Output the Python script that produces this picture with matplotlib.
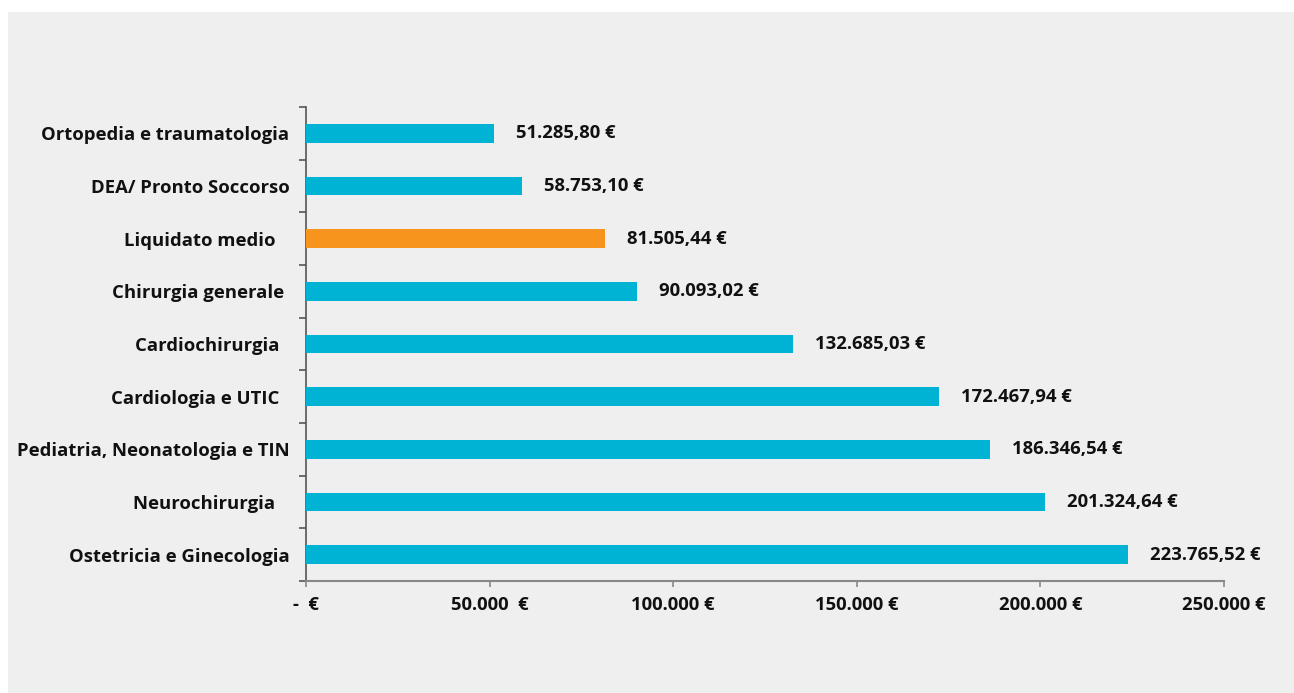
import matplotlib
matplotlib.use("Agg")
import matplotlib.pyplot as plt
from matplotlib.patches import Rectangle
from matplotlib.ticker import FixedLocator

categories = [
    "Ostetricia e Ginecologia",
    "Neurochirurgia   ",
    "Pediatria, Neonatologia e TIN",
    "Cardiologia e UTIC  ",
    "Cardiochirurgia  ",
    "Chirurgia generale ",
    "Liquidato medio   ",
    "DEA/ Pronto Soccorso",
    "Ortopedia e traumatologia",
]
values = [223765.52, 201324.64, 186346.54, 172467.94, 132685.03,
          90093.02, 81505.44, 58753.10, 51285.80]
highlight = "Liquidato medio   "
x_ticks = [0, 50000, 100000, 150000, 200000, 250000]
x_tick_labels = ["-  €", "50.000  €", "100.000 €", "150.000 €", "200.000 €", "250.000 €"]

BLUE = "#00B2D4"
ORANGE = "#F7941E"
BG = "#EFEFEF"
TXT = "#111111"
FS = 13.3

plt.rcParams["font.family"] = ["Open Sans", "DejaVu Sans"]
plt.rcParams["font.stretch"] = "normal"
font_kw = dict(fontsize=FS, fontweight="bold", fontstretch="normal", color=TXT)

def eur(v):
    s = f"{v:,.2f}"
    s = s.replace(",", "X").replace(".", ",").replace("X", ".")
    return s + " €"

fig = plt.figure(figsize=(12.94, 6.93), dpi=100, facecolor="white")
fig.patches.append(Rectangle((8 / 1294, 0), 1, 1 - 12 / 693, transform=fig.transFigure,
                             facecolor=BG, edgecolor="none", zorder=-10))

ax = fig.add_axes([306 / 1294, 1 - 581 / 693, 918 / 1294, 474 / 693])
ax.patch.set_alpha(0)

ypos = list(range(len(categories)))
colors = [ORANGE if c == highlight else BLUE for c in categories]
ax.barh(ypos, values, height=0.35, color=colors, zorder=3)

for y, v in zip(ypos, values):
    ax.annotate(eur(v), xy=(v, y), xytext=(22, 0), textcoords="offset pixels",
                ha="left", va="center", **font_kw)

ax.set_xlim(0, 250000)
ax.set_ylim(-0.5, len(categories) - 0.5)
ax.xaxis.set_major_locator(FixedLocator(x_ticks))
ax.set_xticklabels(x_tick_labels, **font_kw)

ax.set_yticks([y - 0.5 for y in ypos] + [len(categories) - 0.5])
ax.set_yticklabels([])
ax.set_yticks(ypos, minor=True)
ax.set_yticklabels(categories, minor=True, **font_kw)
ax.tick_params(axis="y", which="minor", length=0, pad=12)
ax.tick_params(axis="y", which="major", length=5, color="#555555", width=1.2)
ax.tick_params(axis="x", length=4, color="#888888", width=1.2, pad=7)

for s in ["top", "right"]:
    ax.spines[s].set_visible(False)
ax.spines["left"].set_color("#555555")
ax.spines["left"].set_linewidth(1.2)
ax.spines["bottom"].set_color("#888888")
ax.spines["bottom"].set_linewidth(1.5)

fig.savefig("out.png", dpi=100, facecolor="white")
